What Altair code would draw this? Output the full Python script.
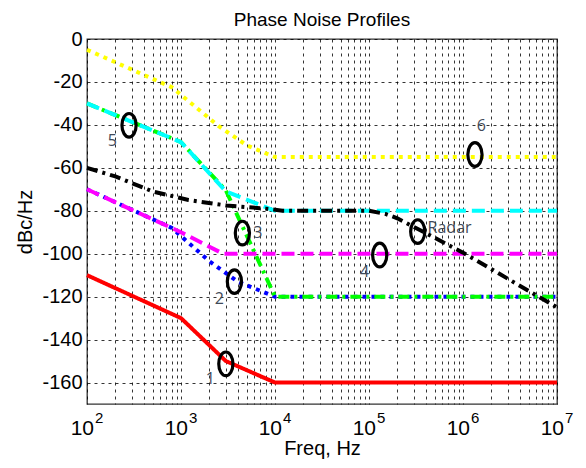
import altair as alt
import pandas as pd

# ---------------- data ----------------
series_names = ["1", "2", "3", "4", "5", "6", "Radar"]
series_colors = ["#ff0000", "#0000ff", "#00ff00", "#ff00ff", "#00ffff", "#ffff00", "#000000"]

freq_1 = [100, 1000, 3000, 10000, 1e7]
dbc_1 = [-110, -130, -150, -160, -160]

freq_2 = [100, 800, 2000, 4000, 10000, 1e7]
dbc_2 = [-70, -88, -103.5, -113, -120, -120]

freq_3 = [100, 1000, 3000, 10000, 1e7]
dbc_3 = [-30, -48, -70.5, -120, -120]

freq_4 = [100, 1000, 2800, 1e7]
dbc_4 = [-70, -90, -100, -100]

freq_5 = [100, 1000, 3000, 10000, 1e7]
dbc_5 = [-30, -48, -71, -80, -80]

freq_6 = [100, 800, 2500, 5000, 10000, 1e7]
dbc_6 = [-5, -22.5, -40.5, -49.5, -55, -55]

freq_radar = [100, 200, 500, 1200, 3000, 8000, 12000, 100000, 150000, 200000, 1e6, 1e7]
dbc_radar = [-60, -64, -71, -75, -77.5, -79, -80, -80, -81.5, -83.5, -99.5, -125]

marker_freq = [3000, 3700, 4500, 130000, 280, 1340000, 330000]
marker_dbc = [-151.3, -113, -90.4, -100.6, -40.2, -53.8, -89.7]

label_text = ["1", "2", "3", "4", "5", "6"]
label_freq = [2050, 2550, 6550, 90000, 186, 1570000]
label_dbc = [-158.3, -120.9, -90.4, -108.4, -47.6, -40.6]

radar_label_text = ["Radar"]
radar_label_freq = [420000]
radar_label_dbc = [-88.1]

x_tick_values = [m * 10 ** k for k in range(2, 7) for m in range(1, 10)] + [10 ** 7]
x_major_values = [100, 1000, 10000, 100000, 1000000, 10000000]
x_major_base = ["10", "10", "10", "10", "10", "10"]
x_major_exponents = ["2", "3", "4", "5", "6", "7"]
y_tick_values = [-160, -140, -120, -100, -80, -60, -40, -20, 0]

title_text = "Phase Noise Profiles"

# ---------------- styles ----------------
W, H = 470, 365
series_dash = {
    "1": [1, 0],
    "2": [4, 5],
    "3": [11, 5, 3, 5],
    "4": [13, 6],
    "5": [13, 6],
    "6": [4, 5],
    "Radar": [11, 5, 3, 5],
}
all_freq = [freq_1, freq_2, freq_3, freq_4, freq_5, freq_6, freq_radar]
all_dbc = [dbc_1, dbc_2, dbc_3, dbc_4, dbc_5, dbc_6, dbc_radar]

FONT = "Liberation Sans"

y_label_expr = "datum.value < 0 ? '-' + abs(datum.value) : '' + datum.value"

x_scale = alt.Scale(type="log", domain=[100, 1e7], nice=False)
y_scale = alt.Scale(domain=[-170, 0], nice=False, zero=False)

x_axis = alt.Axis(
    values=x_tick_values, labels=False, title="Freq, Hz",
    grid=True, gridDash=[3, 4], gridColor="#000000", gridWidth=0.8, gridOpacity=1,
    ticks=False, domain=False,
    titleFont=FONT, titleFontSize=20, titleFontWeight="normal", titleColor="#000000",
    titlePadding=34,
)
y_axis = alt.Axis(
    values=y_tick_values, labelExpr=y_label_expr, title="dBc/Hz",
    grid=True, gridDash=[3, 4], gridColor="#000000", gridWidth=0.8, gridOpacity=1,
    ticks=False, domain=False, labelOverlap=False,
    labelFont=FONT, labelFontSize=20, labelColor="#000000", labelPadding=5,
    titleFont=FONT, titleFontSize=20, titleFontWeight="normal", titleColor="#000000",
    titlePadding=6,
)

X = lambda: alt.X("f:Q", scale=x_scale, axis=x_axis)
Y = lambda: alt.Y("d:Q", scale=y_scale, axis=y_axis)

layers = []
for name, color, fr, db in zip(series_names, series_colors, all_freq, all_dbc):
    df = pd.DataFrame({"f": fr, "d": db})
    layers.append(
        alt.Chart(df).mark_line(
            color=color, strokeWidth=4, strokeDash=series_dash[name], strokeCap="butt",
        ).encode(x=X(), y=Y())
    )

ellipse = "M0,-1A0.6,1,0,1,1,0,1A0.6,1,0,1,1,0,-1Z"
mk_df = pd.DataFrame({"f": marker_freq, "d": marker_dbc})
layers.append(
    alt.Chart(mk_df).mark_point(
        shape=ellipse, size=560, filled=False, stroke="#000000", strokeWidth=3.2, opacity=1,
    ).encode(x=X(), y=Y())
)

lb_df = pd.DataFrame({"f": label_freq, "d": label_dbc, "t": label_text})
layers.append(
    alt.Chart(lb_df).mark_text(
        font="Open Sans", fontSize=16, color="#3f4a59", align="center", baseline="middle",
    ).encode(x=X(), y=Y(), text="t:N")
)
rl_df = pd.DataFrame({"f": radar_label_freq, "d": radar_label_dbc, "t": radar_label_text})
layers.append(
    alt.Chart(rl_df).mark_text(
        font="Open Sans", fontSize=16, color="#3f4a59", align="left", baseline="middle",
    ).encode(x=X(), y=Y(), text="t:N")
)

# x tick labels: base "10" and superscript exponent
xb_df = pd.DataFrame({"f": x_major_values, "t": x_major_base})
layers.append(
    alt.Chart(xb_df).mark_text(
        font=FONT, fontSize=21, color="#000000", align="right", baseline="alphabetic", dx=7,
    ).encode(x=X(), y=alt.value(H + 31), text="t:N")
)
ex_df = pd.DataFrame({"f": x_major_values, "t": x_major_exponents})
layers.append(
    alt.Chart(ex_df).mark_text(
        font=FONT, fontSize=15, color="#000000", align="left", baseline="alphabetic", dx=8,
    ).encode(x=X(), y=alt.value(H + 19), text="t:N")
)

# chart title
tt_df = pd.DataFrame({"t": [title_text]})
layers.append(
    alt.Chart(tt_df).mark_text(
        font=FONT, fontSize=19, color="#000000", align="center", baseline="alphabetic",
    ).encode(x=alt.value(W / 2), y=alt.value(-13.5), text="t:N")
)

chart = alt.layer(*layers).properties(
    width=W, height=H,
    autosize=alt.AutoSizeParams(type="none"),
    padding={"left": 79, "top": 31, "right": 21, "bottom": 64},
    background="#ffffff",
).configure_view(
    stroke="#333333", strokeWidth=1.3,
)

chart.save("out.html", embed_options={"renderer": "svg", "actions": False})
